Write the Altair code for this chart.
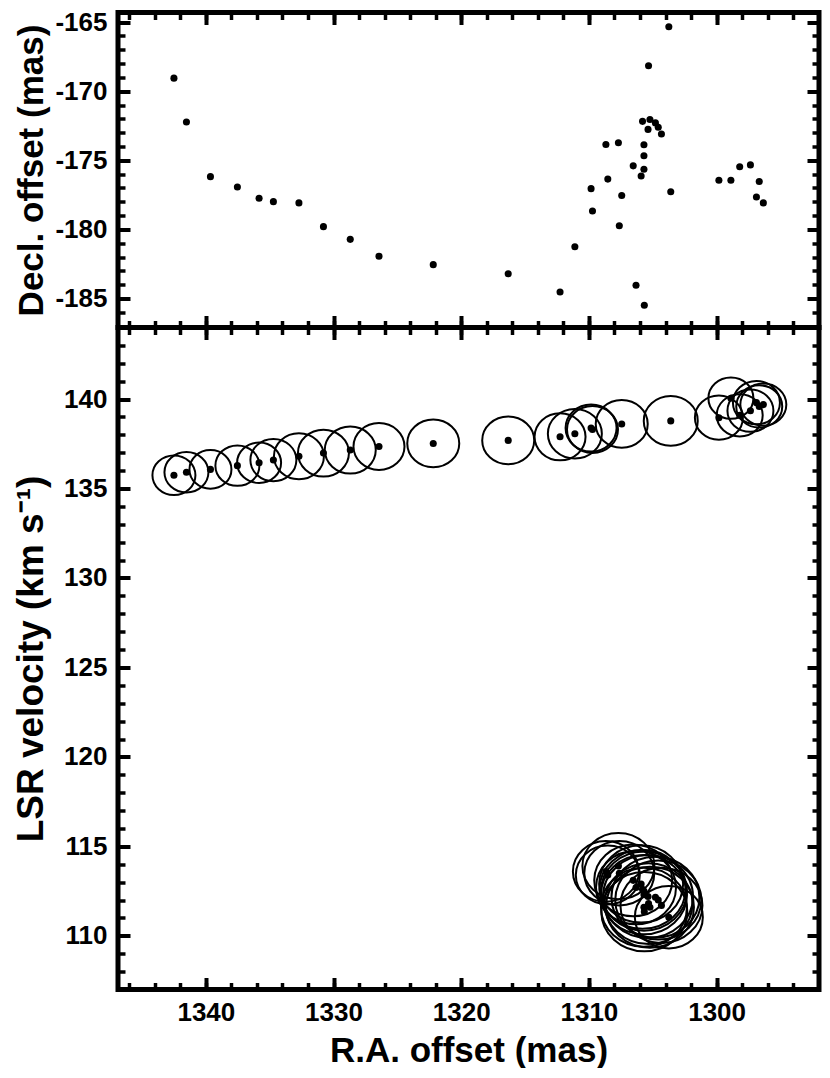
import altair as alt
import pandas as pd

# ---- data ----
# high-velocity group (about 136-140 km/s)
ra_hi = [1342.50, 1341.52, 1339.64, 1337.53, 1335.83, 1334.71, 1332.71, 1330.79,
         1328.69, 1326.44, 1322.19, 1316.32, 1312.26, 1311.10, 1309.83, 1309.72,
         1307.43, 1303.59, 1299.82, 1298.88, 1298.19, 1297.35, 1296.66, 1296.88,
         1296.34]
dec_hi = [-169.05, -172.22, -176.18, -176.93, -177.75, -177.99, -178.08, -179.80,
          -180.72, -181.94, -182.55, -183.21, -184.53, -181.26, -177.05, -178.67,
          -177.54, -177.28, -176.44, -176.44, -175.47, -175.33, -176.53, -177.66,
          -178.08]
v_hi = [135.74, 135.91, 136.07, 136.28, 136.44, 136.59, 136.80, 136.98,
        137.15, 137.35, 137.52, 137.69, 137.89, 138.06, 138.38, 138.30,
        138.61, 138.78, 138.96, 140.05, 139.09, 139.35, 139.59, 139.80,
        139.69]
flux_hi = [4.3, 4.4, 4.2, 4.4, 4.4, 4.6, 5.0, 5.1,
           5.1, 5.1, 5.2, 5.2, 5.1, 5.4, 5.1, 5.1,
           5.2, 5.4, 4.8, 4.5, 4.6, 4.6, 4.6, 4.7,
           4.6]

# low-velocity group (about 111-114 km/s)
ra_lo = [1308.67, 1308.52, 1307.69, 1307.62, 1306.53, 1306.31, 1305.91, 1305.80,
         1305.69, 1305.69, 1305.69, 1305.66, 1305.37, 1305.33, 1305.22, 1304.79,
         1304.57, 1304.32, 1303.74]
dec_lo = [-173.85, -176.36, -173.73, -179.73, -175.40, -184.04, -176.13, -172.18,
          -173.87, -174.67, -175.64, -185.49, -172.76, -168.15, -172.04, -172.29,
          -172.60, -173.09, -165.33]
v_lo = [113.6, 113.4, 113.9, 113.5, 113.1, 112.7, 112.9, 112.6,
        112.5, 112.3, 111.6, 111.35, 112.2, 111.8, 111.6, 112.16,
        112.0, 111.7, 111.04]
flux_lo = [6.6, 6.4, 7.2, 7.0, 7.8, 8.0, 8.4, 8.6,
           8.6, 8.6, 8.6, 8.6, 9.0, 8.8, 8.8, 8.8,
           8.6, 8.2, 6.8]

x_major = [1300, 1310, 1320, 1330, 1340]
x_minor = list(range(1294, 1347, 2))
dec_major = [-185, -180, -175, -170, -165]
dec_minor = list(range(-187, -164))
v_major = [110, 115, 120, 125, 130, 135, 140]
v_minor = list(range(108, 144))

X_DOMAIN = [1346.88, 1291.98]
DEC_DOMAIN = [-187.1, -164.3]
V_DOMAIN = [107.0, 144.0]

df = pd.DataFrame({
    "ra": ra_hi + ra_lo,
    "dec": dec_hi + dec_lo,
    "vlsr": v_hi + v_lo,
    "flux": flux_hi + flux_lo,
})

FONT = "Liberation Sans"
W = 701
H_TOP = 315
H_BOT = 662
MAJ, MIN = 12, 7

ELLIPSE = "M-1,0A1,0.92,0,1,0,1,0A1,0.92,0,1,0,-1,0Z"


def axis(orient, values, major, labels=False, title=None, tsize=35, **kw):
    size = MAJ if major else MIN
    args = dict(orient=orient, values=values, tickSize=size,
                tickWidth=4 if major else 3.5, offset=-size, domain=False,
                grid=False, labels=labels, tickColor="black", ticks=True)
    if labels:
        args.update(labelFont=FONT, labelFontSize=26, labelFontWeight="bold",
                    labelColor="black")
    if title is not None:
        args.update(title=title, titleFont=FONT, titleFontSize=tsize,
                    titleFontWeight="bold", titleColor="black",
                    titleBaseline="alphabetic")
    else:
        args.update(title=None)
    args.update(kw)
    return alt.Axis(**args)


base = alt.Chart(df)


def xq(ax):
    return alt.X("ra:Q", scale=alt.Scale(domain=X_DOMAIN, nice=False, zero=False), axis=ax)


def yq(field, dom, ax):
    return alt.Y(f"{field}:Q", scale=alt.Scale(domain=dom, nice=False, zero=False), axis=ax)


def ghost(xa, ya, field, dom):
    return base.mark_point(opacity=0).encode(x=xq(xa), y=yq(field, dom, ya))


# ---- top panel: Decl. offset vs R.A. offset ----
top_dots = base.mark_circle(size=50, color="black", opacity=1).encode(
    x=xq(None), y=yq("dec", DEC_DOMAIN, None))

top = alt.layer(
    top_dots,
    ghost(axis("bottom", x_major, True),
          axis("left", dec_major, True, labels=True, title="Decl. offset (mas)",
               labelPadding=11, titleX=-88,
               labelExpr="'-' + format(abs(datum.value), 'd')"),
          "dec", DEC_DOMAIN),
    ghost(axis("bottom", x_minor, False), axis("left", dec_minor, False), "dec", DEC_DOMAIN),
    ghost(axis("top", x_major, True), axis("right", dec_major, True), "dec", DEC_DOMAIN),
    ghost(axis("top", x_minor, False), axis("right", dec_minor, False), "dec", DEC_DOMAIN),
).resolve_axis(x="independent", y="independent").properties(width=W, height=H_TOP)

# ---- bottom panel: LSR velocity vs R.A. offset ----
rings = base.mark_point(shape=ELLIPSE, filled=False, color="black", strokeWidth=2,
                        opacity=1).encode(
    x=xq(None), y=yq("vlsr", V_DOMAIN, None),
    size=alt.Size("flux:Q", scale=alt.Scale(type="pow", exponent=2, domain=[0, 10],
                                            range=[0, 10000]), legend=None))
bot_dots = base.mark_circle(size=50, color="black", opacity=1).encode(
    x=xq(None), y=yq("vlsr", V_DOMAIN, None))

bottom = alt.layer(
    rings,
    bot_dots,
    ghost(axis("bottom", x_major, True, labels=True, title="R.A. offset (mas)",
               labelPadding=10, titleY=84, format="d"),
          axis("left", v_major, True, labels=True, title="LSR velocity (km s\u207b\u00b9)",
               tsize=37, labelPadding=11, titleX=-88, format="d"),
          "vlsr", V_DOMAIN),
    ghost(axis("bottom", x_minor, False), axis("left", v_minor, False), "vlsr", V_DOMAIN),
    ghost(axis("top", x_major, True), axis("right", v_major, True), "vlsr", V_DOMAIN),
    ghost(axis("top", x_minor, False), axis("right", v_minor, False), "vlsr", V_DOMAIN),
).resolve_axis(x="independent", y="independent").properties(width=W, height=H_BOT)

chart = alt.vconcat(top, bottom, spacing=0, bounds="flush").properties(
    autosize=alt.AutoSizeParams(type="none"),
    padding={"left": 110, "top": 4.5, "right": 3, "bottom": 1055.5},
    background="white",
).configure_view(stroke="black", strokeWidth=5)

chart.save("out.html", embed_options={"renderer": "svg", "actions": False})
